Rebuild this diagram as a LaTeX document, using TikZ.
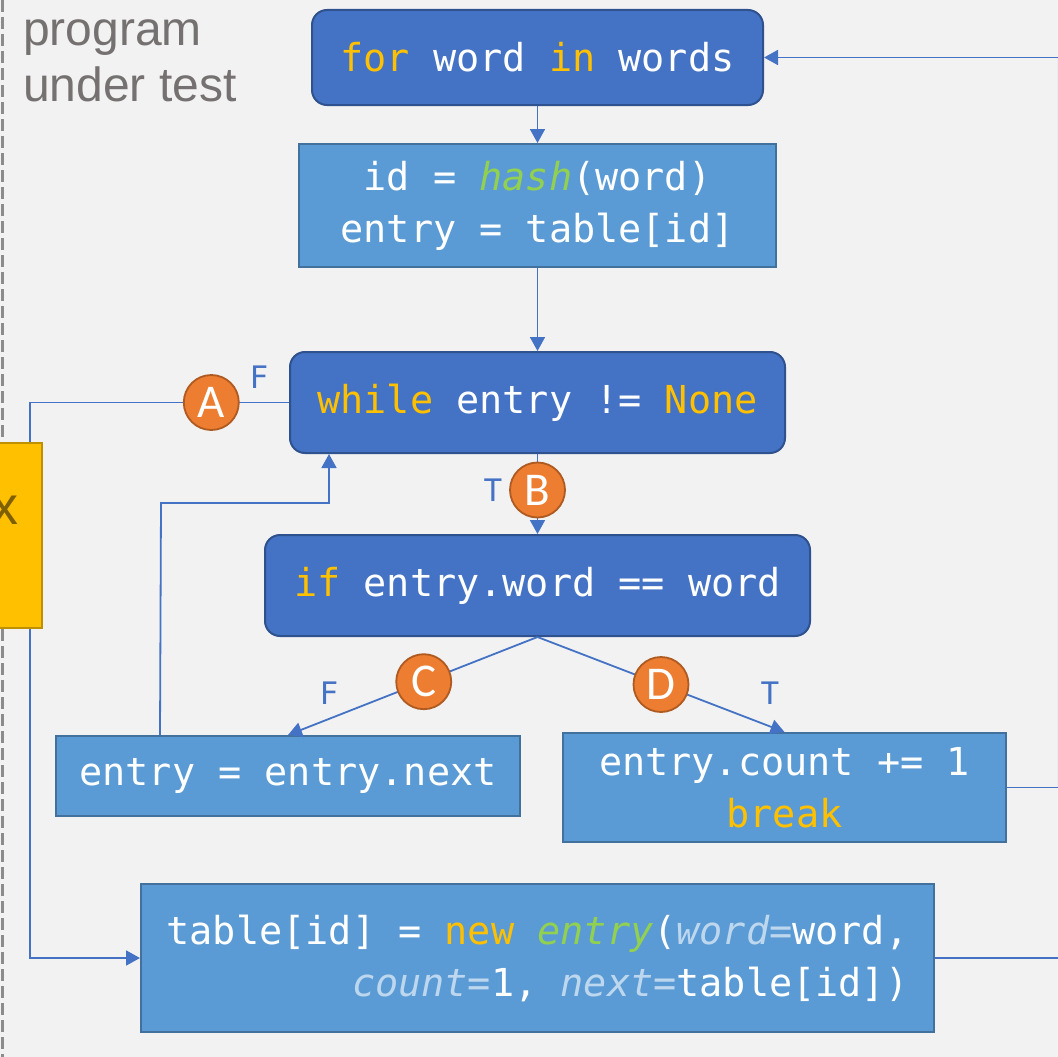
\documentclass[tikz,border=0pt]{standalone}
\usepackage{fontspec}
\setmainfont{Liberation Sans}
\setmonofont{DejaVu Sans Mono}
\newfontfamily\calib{Carlito}
\usetikzlibrary{arrows.meta}
\definecolor{bg}{HTML}{F2F2F2}
\definecolor{dfill}{HTML}{4472C4}
\definecolor{dborder}{HTML}{2F528F}
\definecolor{lfill}{HTML}{5B9BD5}
\definecolor{lborder}{HTML}{41719C}
\definecolor{kwc}{HTML}{FFC000}
\definecolor{fnc}{HTML}{92D050}
\definecolor{argc}{HTML}{BDD7EE}
\definecolor{orfill}{HTML}{ED7D31}
\definecolor{orborder}{HTML}{AE5A21}
\definecolor{lc}{HTML}{4472C4}
\definecolor{yfill}{HTML}{FFC000}
\definecolor{yborder}{HTML}{BF9000}
\definecolor{ytext}{HTML}{7F6000}
\definecolor{graytext}{HTML}{767171}
\definecolor{dashc}{HTML}{8C8C8C}
\definecolor{edgec}{HTML}{EAECEF}
\newcommand{\kwd}[1]{\textcolor{kwc}{#1}}
\newcommand{\fnm}[1]{\textcolor{fnc}{\itshape #1}}
\newcommand{\parg}[1]{\textcolor{argc}{\itshape #1}}
\newcommand{\codefont}{\ttfamily\fontsize{38.5}{52}\selectfont}
\begin{document}
\begin{tikzpicture}[x=1pt,y=-1pt,
  dbox/.style={draw=dborder, fill=dfill, line width=2pt, rounded corners=15pt,
    text=white, font=\codefont, inner sep=0pt, align=center},
  lbox/.style={draw=lborder, fill=lfill, line width=2pt,
    text=white, font=\codefont, inner sep=0pt, align=center},
  conn/.style={draw=lc, line width=1.8pt},
  arr/.style={conn, -{Triangle[length=14pt,width=15pt]}},
  badge/.style={circle, fill=orfill, draw=orborder, line width=1.8pt,
    minimum size=55pt, inner sep=0pt, text=white,
    font=\calib\fontsize{47}{47}\selectfont},
  lbl/.style={text=lc, inner sep=0pt, font=\ttfamily\fontsize{31}{31}\selectfont},
  ybox/.style={draw=yborder, fill=yfill, line width=2pt}
]
\useasboundingbox (0,0) rectangle (1058,1057);
\fill[bg] (0,0) rectangle (1058,1057);
\draw[dashc, line width=3pt, dash pattern=on 12pt off 5pt] (2,0) -- (2,1057);
\draw[edgec, line width=1pt] (1057,57.5) -- (1057,788);

% title
\node[anchor=base west, align=left, inner sep=0pt, text=graytext,
  font=\fontsize{48}{57}\selectfont] (title) at (23,102) {program\\under test};

% boxes
\node[dbox, minimum width=451pt, minimum height=95pt] (for) at (537.5,57.5)
  {\kwd{for} word \kwd{in} words};
\node[lbox, minimum width=477pt, minimum height=123pt] (id) at (537.5,205.5)
  {id = \fnm{hash}(word)\\entry = table[id]};
\node[dbox, minimum width=495pt, minimum height=101pt] (while) at (537.5,402.5)
  {\kwd{while} entry != \kwd{None}};
\node[dbox, minimum width=545pt, minimum height=101pt] (if) at (537.5,585.5)
  {\kwd{if} entry.word == word};
\node[lbox, minimum width=464pt, minimum height=80pt] (next) at (288,776)
  {entry = entry.next};
\node[lbox, minimum width=443pt, minimum height=109pt] (count) at (784.5,787.5)
  {entry.count += 1\\\kwd{break}};
\node[lbox, minimum width=793pt, minimum height=148pt, align=right] (table) at (537.5,958)
  {table[id] = \kwd{new} \fnm{entry}(\parg{word=}word,\\\parg{count=}1, \parg{next=}table[id])};

% coordinates
\coordinate (rtop) at (1058,57.5);
\coordinate (rmid) at (1058,787.5);
\coordinate (rbot) at (1058,958);
\coordinate (cA) at (30,402.5);
\coordinate (loopc) at (161,503);

% connectors
\draw[arr] (rtop) -- (for.east);
\draw[arr] (for.south) -- (id.north);
\draw[arr] (id.south) -- (while.north);
\draw[arr] (while.south) -- node[badge, pos=0.45] (B) {B} (if.north);
\draw[arr] (if.south) -- node[badge, pos=0.456] (C) {C} (next.north);
\draw[arr] (if.south) -- node[badge, pos=0.5] (D) {D} (count.north);
\draw[arr] ([xshift=105pt]next.north west) -- (loopc) -| ([xshift=40pt]while.south west);
\draw[arr] (while.west) -- node[badge, pos=0.3] (A) {A} (cA) |- (table.west);
\draw[conn] (count.east) -- (rmid);
\draw[conn] (table.east) -- (rbot);

% labels
\node[lbl] (fA) at (259,377) {F};
\node[lbl] (tB) at (493,490) {T};
\node[lbl] (fC) at (329,693) {F};
\node[lbl] (tD) at (770,693) {T};

% yellow box (cropped)
\node[ybox, minimum width=47pt, minimum height=185pt, inner sep=0pt] (ybox) at (18.5,535.5) {};
\node[anchor=base east, inner sep=0pt, text=ytext, font=\fontsize{54}{54}\selectfont] (xl) at (19,524) {x};
\end{tikzpicture}
\end{document}
